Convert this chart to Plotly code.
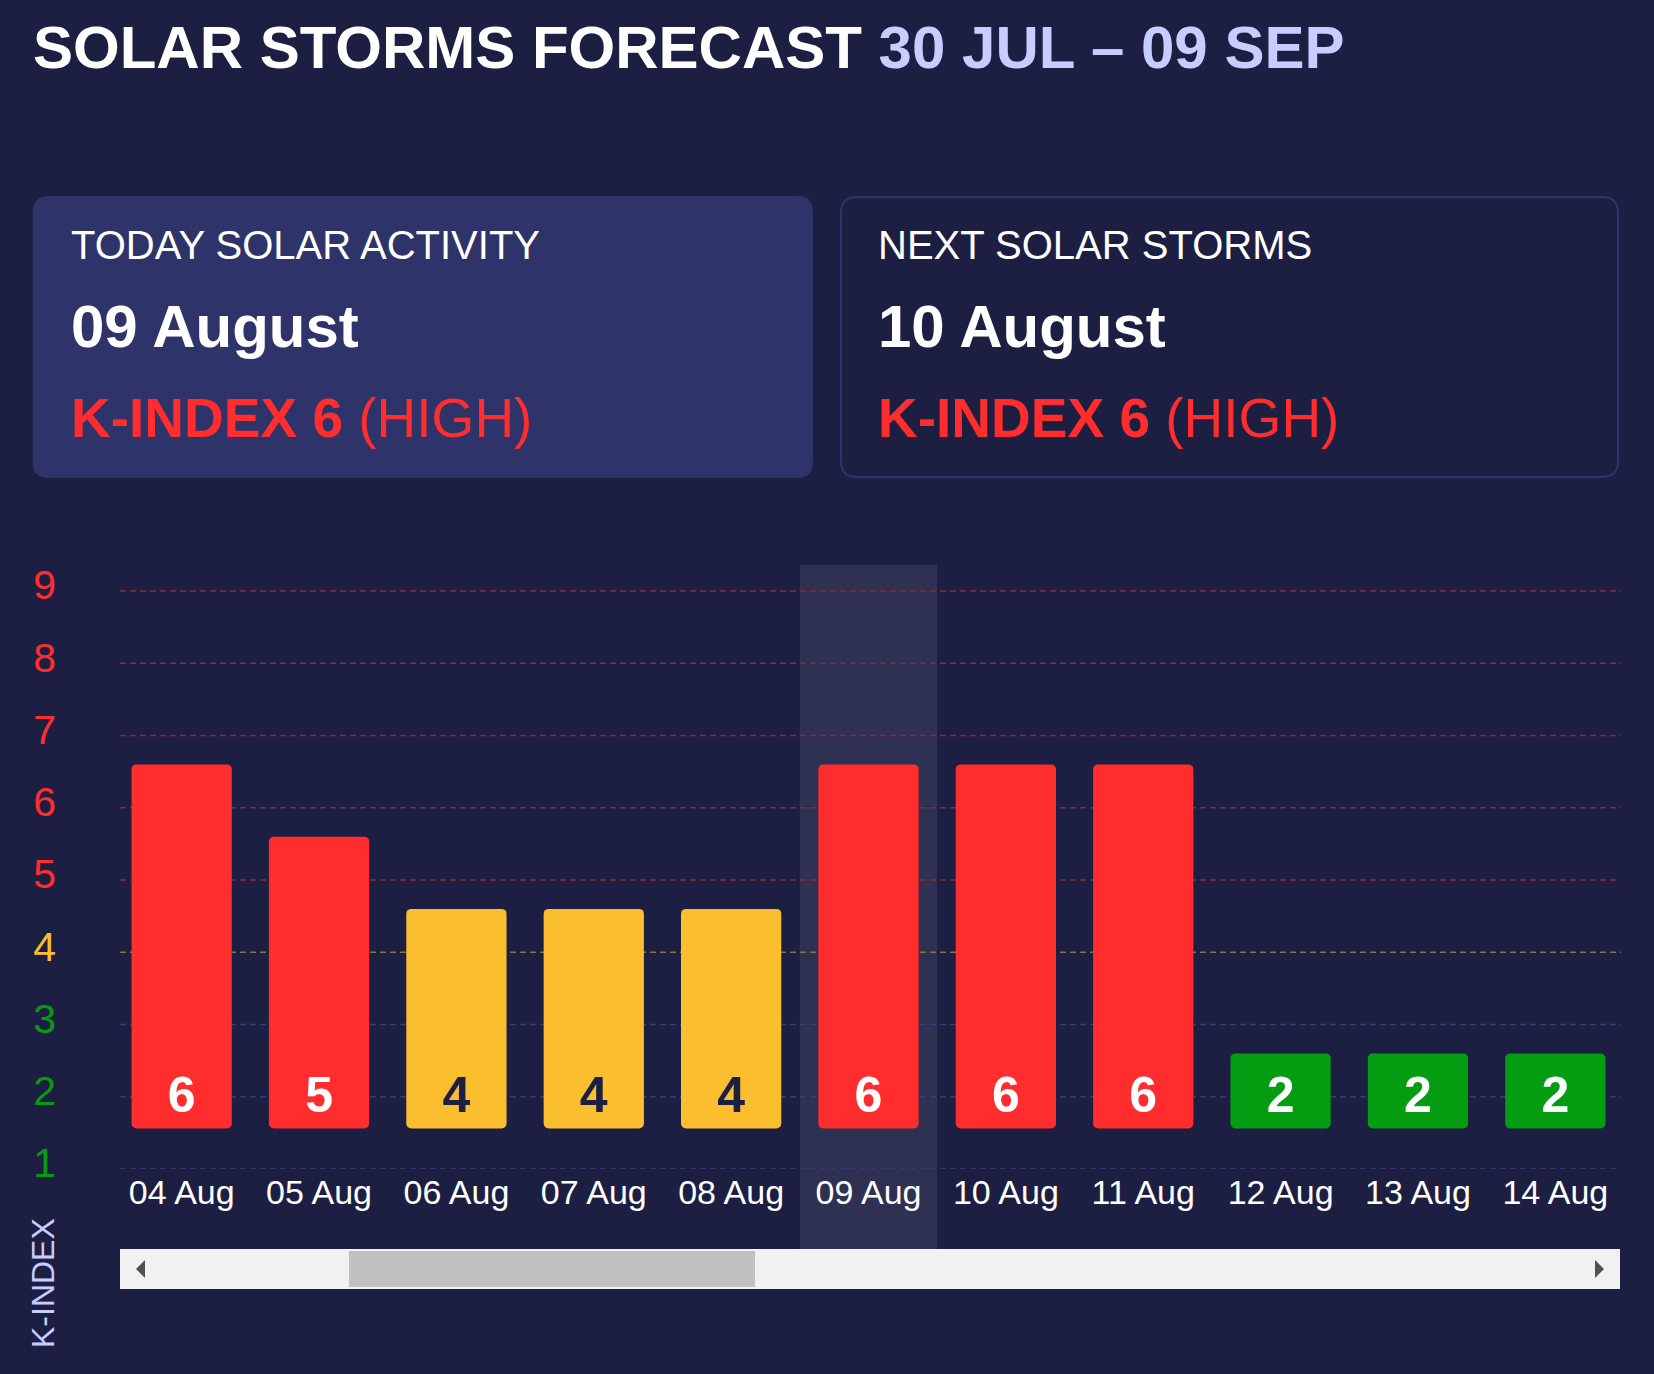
import plotly.graph_objects as go

# ---------------- data ----------------
dates = ["04 Aug", "05 Aug", "06 Aug", "07 Aug", "08 Aug", "09 Aug",
         "10 Aug", "11 Aug", "12 Aug", "13 Aug", "14 Aug"]
k_index = [6, 5, 4, 4, 4, 6, 6, 6, 2, 2, 2]
y_ticks = [1, 2, 3, 4, 5, 6, 7, 8, 9]
today_label = "09 Aug"
title_main = "SOLAR STORMS FORECAST"
title_range = "30 JUL – 09 SEP"
card_titles = ["TODAY SOLAR ACTIVITY", "NEXT SOLAR STORMS"]
card_dates = ["09 August", "10 August"]
card_k = [6, 6]
card_levels = ["HIGH", "HIGH"]
axis_title = "K-INDEX"

# ---------------- style ----------------
W, H = 1654, 1374
L, R, T, B = 113, 30, 565, 205
PW, PH = W - L - R, H - T - B
FONT = "Liberation Sans, Arial, sans-serif"
BG = "#1d1f42"
RED, YEL, GRN = "#ff2d2d", "#fbbe2e", "#049c10"
LAV = "#c8cdff"
CARD = "#2e3469"
HILITE = "#2e3152"
Y_RANGE = [1, 9.36]
BAR_SHIFT = 0.6
BAR_BASE = 0.96
LABEL_LEVEL = 1.96


def level_color(v):
    return RED if v >= 5 else (YEL if v == 4 else GRN)


def grid_color(v):
    return "#8a2a3e" if v >= 5 else ("#8a7638" if v == 4 else "#383f74")


def text_color(v):
    return BG if v == 4 else "white"


def px2x(px):
    return (px - L) / PW


def py2y(py):
    return (H - B - py) / PH


def rrect(x0, y0, x1, y1, r):
    pts = [("M", [(x0 + r, y0)]), ("L", [(x1 - r, y0)]), ("Q", [(x1, y0), (x1, y0 + r)]),
           ("L", [(x1, y1 - r)]), ("Q", [(x1, y1), (x1 - r, y1)]), ("L", [(x0 + r, y1)]),
           ("Q", [(x0, y1), (x0, y1 - r)]), ("L", [(x0, y0 + r)]), ("Q", [(x0, y0), (x0 + r, y0)])]
    s = ""
    for cmd, ps in pts:
        s += cmd + " " + " ".join(f"{px2x(a):.5f},{py2y(b):.5f}" for a, b in ps) + " "
    return s + "Z"


def poly(points):
    s = "M " + " L ".join(f"{px2x(a):.5f},{py2y(b):.5f}" for a, b in points)
    return s + " Z"


fig = go.Figure()

fig.add_trace(go.Bar(
    x=dates, y=[v - BAR_BASE for v in k_index], base=BAR_BASE, yaxis="y2",
    marker=dict(color=[level_color(v) for v in k_index], cornerradius=5, line=dict(width=0)),
    width=0.73, hoverinfo="skip", showlegend=False,
))

fig.add_trace(go.Scatter(
    x=dates, y=[LABEL_LEVEL - BAR_SHIFT] * len(dates), yaxis="y2", mode="text",
    text=[str(v) for v in k_index],
    textfont=dict(family=FONT, size=50, weight="bold", color=[text_color(v) for v in k_index]),
    textposition="middle center", hoverinfo="skip", showlegend=False,
))

shapes = []
# highlight column for today
idx = dates.index(today_label)
n = len(dates)
shapes.append(dict(type="rect", xref="paper", yref="paper", x0=idx / n, x1=(idx + 1) / n,
                   y0=py2y(1249), y1=1, fillcolor=HILITE, line=dict(width=0), layer="below"))
# gridlines
for v in y_ticks:
    shapes.append(dict(type="line", xref="paper", yref="y", x0=px2x(120), x1=px2x(1621), y0=v, y1=v,
                       line=dict(color=grid_color(v), width=1.6, dash="6px,4px"), layer="below"))
# cards
shapes.append(dict(type="path", xref="paper", yref="paper", path=rrect(32.7, 196, 813, 478, 16),
                   fillcolor=CARD, line=dict(width=0), layer="below"))
shapes.append(dict(type="path", xref="paper", yref="paper", path=rrect(841, 197, 1618, 477, 16),
                   fillcolor=BG, line=dict(color=CARD, width=2), layer="below"))
# scrollbar
shapes.append(dict(type="rect", xref="paper", yref="paper", x0=px2x(120), x1=px2x(1620),
                   y0=py2y(1289), y1=py2y(1249), fillcolor="#f1f1f1", line=dict(width=0), layer="above"))
shapes.append(dict(type="rect", xref="paper", yref="paper", x0=px2x(349), x1=px2x(755),
                   y0=py2y(1287), y1=py2y(1251), fillcolor="#c1c1c1", line=dict(width=0), layer="above"))
shapes.append(dict(type="path", xref="paper", yref="paper",
                   path=poly([(145, 1260), (136, 1269), (145, 1278)]),
                   fillcolor="#505050", line=dict(width=0), layer="above"))
shapes.append(dict(type="path", xref="paper", yref="paper",
                   path=poly([(1595, 1260), (1604, 1269), (1595, 1278)]),
                   fillcolor="#505050", line=dict(width=0), layer="above"))

annotations = []
annotations.append(dict(
    xref="paper", yref="paper", x=px2x(31), y=py2y(47), xanchor="left", yanchor="middle",
    text=f"<b>{title_main}</b> <b><span style='color:{LAV}'>{title_range}</span></b>",
    showarrow=False, font=dict(family=FONT, size=60, color="white")))
for i, cx in enumerate([69, 876]):
    annotations.append(dict(
        xref="paper", yref="paper", x=px2x(cx), y=py2y(244.5), xanchor="left", yanchor="middle",
        text=card_titles[i], showarrow=False, font=dict(family=FONT, size=40, color="white")))
    annotations.append(dict(
        xref="paper", yref="paper", x=px2x(cx), y=py2y(326.5), xanchor="left", yanchor="middle",
        text=f"<b>{card_dates[i]}</b>", showarrow=False, font=dict(family=FONT, size=60, color="white")))
    annotations.append(dict(
        xref="paper", yref="paper", x=px2x(cx), y=py2y(417.5), xanchor="left", yanchor="middle",
        text=f"<b>K-INDEX {card_k[i]}</b> ({card_levels[i]})", showarrow=False,
        font=dict(family=FONT, size=55, color=RED)))
annotations.append(dict(
    xref="paper", yref="paper", x=px2x(43), y=py2y(1283), xanchor="center", yanchor="middle",
    text=axis_title, textangle=-90, showarrow=False, font=dict(family=FONT, size=32, color=LAV)))

fig.update_layout(
    width=W, height=H, margin=dict(l=L, r=R, t=T, b=B, pad=0),
    paper_bgcolor=BG, plot_bgcolor="rgba(0,0,0,0)",
    font=dict(family=FONT, color="white"),
    bargap=0.27,
    xaxis=dict(type="category", categoryorder="array", categoryarray=dates, range=[-0.5, n - 0.5],
               showgrid=False, zeroline=False, showline=False, ticks="",
               tickfont=dict(family=FONT, size=34, color="white"), fixedrange=True),
    yaxis=dict(range=Y_RANGE, tickvals=y_ticks,
               ticktext=[f"<span style='color:{level_color(v)}'>{v}</span>" for v in y_ticks],
               showgrid=False, zeroline=False, showline=False, ticks="",
               tickfont=dict(family=FONT, size=41), ticklabelstandoff=56, ticklabelshift=-6),
    yaxis2=dict(overlaying="y", range=[Y_RANGE[0] - BAR_SHIFT, Y_RANGE[1] - BAR_SHIFT], visible=False),
    shapes=shapes, annotations=annotations, showlegend=False,
)

fig.write_html("out.html", config={"displayModeBar": False},
               post_script=f"document.body.style.margin='0';document.body.style.background='{BG}';"
                           f"document.documentElement.style.background='{BG}';")
